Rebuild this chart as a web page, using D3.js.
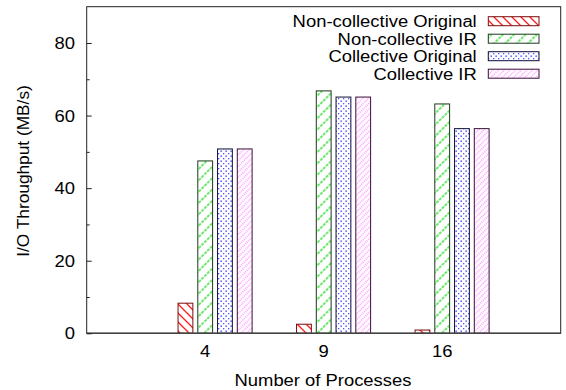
<!DOCTYPE html>
<html>
<head>
<meta charset="utf-8">
<script src="https://cdn.jsdelivr.net/npm/d3@7"></script>
<style>
  body { margin: 0; background: #fff; }
  text { font-family: "Liberation Sans", Arial, Helvetica, sans-serif; fill: #000; }
</style>
</head>
<body>
<svg id="chart" width="566" height="390"></svg>
<script>
const procs = ["4", "9", "16"];
const series = ["Non-collective Original", "Non-collective IR", "Collective Original", "Collective IR"];
const nonCollOrig = [8.3, 2.5, 0.9];
const nonCollIR = [47.5, 66.8, 63.2];
const collOrig = [50.8, 65.1, 56.4];
const collIR = [50.8, 65.1, 56.4];
const yMajor = [0, 20, 40, 60, 80];
const yMinor = [10, 30, 50, 70];

const values = [nonCollOrig, nonCollIR, collOrig, collIR];
const patIds = ["pRed", "pGreen", "pBlue", "pPink"];
const edge = ["#7a0d0d", "#1a3a1a", "#10103a", "#3a103a"];

const svg = d3.select("#chart");
const plotL = 86.7, plotR = 560.7, plotT = 6.7, plotB = 333.3;

// histogram clusters sit at 0,1,2 ; gnuplot-ish gap of 2 -> slot 1/6
const x = d3.scaleLinear().domain([-1, 3]).range([plotL, plotR]);
const y = d3.scaleLinear().domain([0, 90]).range([plotB, plotT]);
const slot = 1 / 6, bw = 0.125;

// fill patterns
const defs = svg.append("defs");
let p = defs.append("pattern").attr("id", "pRed").attr("patternUnits", "userSpaceOnUse")
  .attr("width", 9).attr("height", 9);
p.append("rect").attr("width", 9).attr("height", 9).attr("fill", "#fff");
p.append("path").attr("d", "M0,0L9,9M-2,7L2,11M7,-2L11,2").attr("stroke", "#ff1a1a").attr("stroke-width", 1.3);

p = defs.append("pattern").attr("id", "pGreen").attr("patternUnits", "userSpaceOnUse")
  .attr("width", 8).attr("height", 8).attr("patternTransform", "rotate(45)");
p.append("rect").attr("width", 8).attr("height", 8).attr("fill", "#fff");
p.append("line").attr("x1", 4).attr("x2", 4).attr("y1", 0).attr("y2", 8)
  .attr("stroke", "#22dd22").attr("stroke-width", 1.3).attr("stroke-dasharray", "3,1");

p = defs.append("pattern").attr("id", "pBlue").attr("patternUnits", "userSpaceOnUse")
  .attr("width", 5).attr("height", 5);
p.append("rect").attr("width", 5).attr("height", 5).attr("fill", "#fff");
p.append("rect").attr("x", 0.5).attr("y", 0.5).attr("width", 1.3).attr("height", 1.3).attr("fill", "#2222ff");
p.append("rect").attr("x", 3).attr("y", 3).attr("width", 1.3).attr("height", 1.3).attr("fill", "#5555ff");

p = defs.append("pattern").attr("id", "pPink").attr("patternUnits", "userSpaceOnUse")
  .attr("width", 4).attr("height", 4).attr("patternTransform", "rotate(45)");
p.append("rect").attr("width", 4).attr("height", 4).attr("fill", "#fff");
p.append("line").attr("x1", 2).attr("x2", 2).attr("y1", 0).attr("y2", 4)
  .attr("stroke", "#ff55ff").attr("stroke-width", 1).attr("stroke-dasharray", "1,1");

// bars
values.forEach((vals, k) => {
  svg.append("g").selectAll("rect")
    .data(vals)
    .enter().append("rect")
    .attr("x", (d, i) => x(i + (k - 1) * slot - bw / 2))
    .attr("width", x(bw) - x(0))
    .attr("y", d => y(d))
    .attr("height", d => y(0) - y(d))
    .attr("fill", `url(#${patIds[k]})`)
    .attr("stroke", edge[k])
    .attr("stroke-width", 1);
});

// frame
svg.append("rect").attr("x", plotL).attr("y", plotT).attr("width", plotR - plotL).attr("height", plotB - plotT)
  .attr("fill", "none").attr("stroke", "#222").attr("stroke-width", 1);
svg.append("line").attr("x1", plotL).attr("x2", plotR).attr("y1", plotB).attr("y2", plotB)
  .attr("stroke", "#444").attr("stroke-width", 1.6);

// y axis (ticks inward)
const yAxis = svg.append("g").attr("transform", `translate(${plotL},0)`)
  .call(d3.axisRight(y).tickValues(yMajor).tickSize(5).tickFormat(""));
yAxis.select(".domain").remove();
svg.append("g").attr("transform", `translate(${plotL},0)`)
  .call(d3.axisRight(y).tickValues(yMinor).tickSize(3).tickFormat(""))
  .select(".domain").remove();
svg.selectAll(".tick line").attr("stroke", "#222");

svg.append("g").selectAll("text").data(yMajor).enter().append("text")
  .attr("x", 75).attr("y", d => y(d) + 6)
  .attr("text-anchor", "end").attr("font-size", 16)
  .text(d => d);

// x labels
svg.append("g").selectAll("text").data(procs).enter().append("text")
  .attr("x", (d, i) => x(i)).attr("y", 357)
  .attr("text-anchor", "middle").attr("font-size", 16)
  .text(d => d);

svg.append("text").attr("x", 323).attr("y", 386)
  .attr("text-anchor", "middle").attr("font-size", 16)
  .text("Number of Processes");

svg.append("text").attr("transform", "translate(29,171) rotate(-90)")
  .attr("text-anchor", "middle").attr("font-size", 16).attr("class", "vtitle")
  .text("I/O Throughput (MB/s)");

// legend
const lg = svg.append("g");
series.forEach((s, k) => {
  const cy = 21.2 + k * 17.5;
  lg.append("text").attr("x", 476.7).attr("y", cy + 5.8)
    .attr("text-anchor", "end").attr("font-size", 16).text(s);
  lg.append("rect").attr("x", 488.3).attr("y", cy - 4.5).attr("width", 50.7).attr("height", 9)
    .attr("fill", `url(#${patIds[k]})`).attr("stroke", edge[k]).attr("stroke-width", 1);
});

// the reference looks horizontally stretched; widen glyphs to match
svg.selectAll("text").each(function () {
  const t = d3.select(this);
  const f = t.classed("vtitle") ? 1.08 : 1.15;
  const w = this.getComputedTextLength();
  t.attr("textLength", w * f).attr("lengthAdjust", "spacingAndGlyphs");
});
</script>
</body>
</html>
